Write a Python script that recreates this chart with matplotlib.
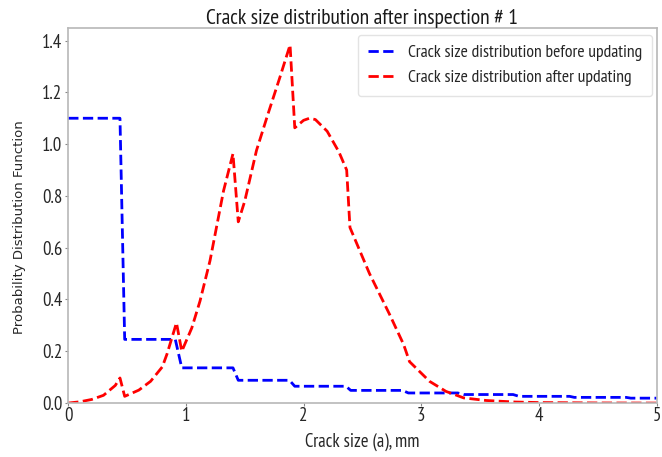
import matplotlib
matplotlib.use("Agg")
import matplotlib.pyplot as plt

# Prior (before updating) - stepwise PDF
blue_x = [0, 0.44, 0.48, 0.91, 0.965, 1.40, 1.445, 1.88, 1.925, 2.36, 2.40, 2.84, 2.89,
          3.31, 3.36, 3.78, 3.83, 4.26, 4.30, 4.74, 4.78, 5.0]
blue_y = [1.10, 1.10, 0.246, 0.246, 0.136, 0.136, 0.088, 0.088, 0.065, 0.065, 0.049, 0.049,
          0.039, 0.039, 0.033, 0.033, 0.026, 0.026, 0.022, 0.022, 0.019, 0.019]

# Posterior (after updating)
red_x = [0, 0.1, 0.2, 0.3, 0.4, 0.44, 0.48, 0.6, 0.7, 0.8, 0.84, 0.92, 0.965, 1.05, 1.12,
         1.205, 1.32, 1.40, 1.445, 1.5, 1.6, 1.7, 1.8, 1.885, 1.925, 2.0, 2.05, 2.1, 2.2,
         2.3, 2.366, 2.394, 2.56, 2.73, 2.85, 2.90, 3.07, 3.21, 3.36, 3.55, 3.8, 4.0, 4.5, 5.0]
red_y = [0.0, 0.005, 0.014, 0.03, 0.068, 0.097, 0.026, 0.05, 0.084, 0.14, 0.19, 0.31, 0.20,
         0.29, 0.394, 0.55, 0.82, 0.963, 0.70, 0.78, 0.976, 1.12, 1.26, 1.383, 1.063, 1.092,
         1.10, 1.095, 1.05, 0.97, 0.90, 0.678, 0.50, 0.343, 0.226, 0.16, 0.084, 0.045, 0.02,
         0.01, 0.004, 0.002, 0.0005, 0.0]

x_ticks = [0, 1, 2, 3, 4, 5]
y_ticks = [0.0, 0.2, 0.4, 0.6, 0.8, 1.0, 1.2, 1.4]

narrow = ["PT Sans Narrow", "Roboto Condensed", "DejaVu Sans"]
txtcol = "#262626"

fig = plt.figure(figsize=(6.62, 4.57), dpi=100)
ax = fig.add_axes([0.103, 0.118, 0.889, 0.821])

ax.plot(blue_x, blue_y, "b--", lw=2, label="Crack size distribution before updating")
ax.plot(red_x, red_y, "r--", lw=2, label="Crack size distribution after updating")

ax.set_xlim(0, 5)
ax.set_ylim(0, 1.449)
ax.set_xticks(x_ticks)
ax.set_yticks(y_ticks)
ax.set_xticklabels([str(t) for t in x_ticks], family=narrow, fontsize=12, color=txtcol)
ax.set_yticklabels([f"{t:.1f}" for t in y_ticks], family=narrow, fontsize=12, color=txtcol)
ax.tick_params(length=2.5, color="#888888", width=0.8)
ax.tick_params(axis="x", pad=0.5)
ax.tick_params(axis="y", pad=1.5)
for s in ax.spines.values():
    s.set_color("#b8b8b8")
    s.set_linewidth(1.2)

title = ax.set_title("Crack size distribution after inspection # 1", family=narrow,
                     fontsize=15, pad=3, color="#1a1a1a", fontweight="normal")
xl = ax.set_xlabel("Crack size (a), mm", family=narrow, fontsize=12, color=txtcol, va="top")
ax.xaxis.set_label_coords(0.5, -0.08)
yl = ax.set_ylabel("Probability Distribution Function", family=["DejaVu Sans"], fontsize=9,
                   color=txtcol)
ax.yaxis.set_label_coords(-0.071, 0.47)

leg = ax.legend(loc="upper right", bbox_to_anchor=(0.9927, 0.9813), borderaxespad=0,
                prop={"family": narrow, "size": 12}, handlelength=1.6, handletextpad=0.8,
                borderpad=0.6, labelspacing=0.55, fancybox=True, edgecolor="#dddddd")
for t in leg.get_texts():
    t.set_color(txtcol)

# fit font sizes to the measured text extents of the reference
fig.canvas.draw()
r = fig.canvas.get_renderer()

def fit(t, target, use_height=False):
    bb = t.get_window_extent(r)
    cur = bb.height if use_height else bb.width
    t.set_fontsize(t.get_fontsize() * target / cur)

fit(title, 313)
fit(xl, 114)
fit(yl, 212, use_height=True)
lt = leg.get_texts()[0]
bb = lt.get_window_extent(r)
leg_fs = 12 * 235 / bb.width
for t in leg.get_texts():
    t.set_fontsize(leg_fs)
tl = ax.get_yticklabels()[5]
bb = tl.get_window_extent(r)
tick_fs = 12 * 20 / bb.width
for t in ax.get_xticklabels() + ax.get_yticklabels():
    t.set_fontsize(tick_fs)

fig.savefig("out.png", dpi=100)
